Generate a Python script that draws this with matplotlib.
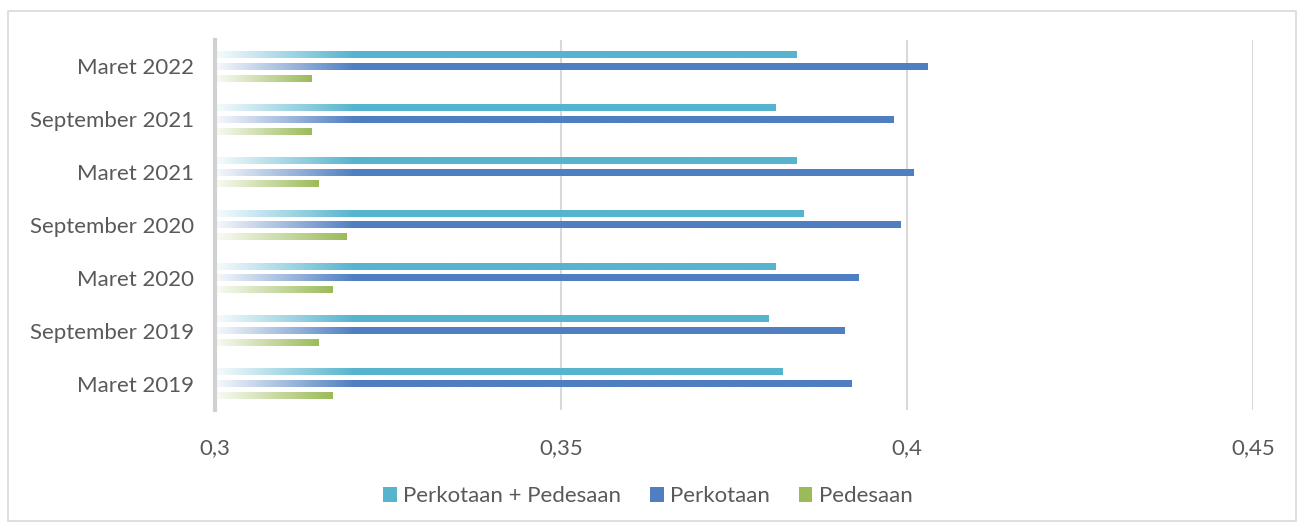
import numpy as np
import matplotlib
matplotlib.use("Agg")
import matplotlib.pyplot as plt
from matplotlib.colors import to_rgb
from matplotlib.patches import Patch, Rectangle

periods = ["Maret 2019", "September 2019", "Maret 2020", "September 2020",
           "Maret 2021", "September 2021", "Maret 2022"]
total = [0.382, 0.380, 0.381, 0.385, 0.384, 0.381, 0.384]
urban = [0.392, 0.391, 0.393, 0.399, 0.401, 0.398, 0.403]
rural = [0.317, 0.315, 0.317, 0.319, 0.315, 0.314, 0.314]
series_names = ["Perkotaan + Pedesaan", "Perkotaan", "Pedesaan"]
colors = ["#56B4CE", "#4F7FC0", "#9BBB59"]
xticks = [0.3, 0.35, 0.4, 0.45]
xticklabels = ["0,3", "0,35", "0,4", "0,45"]

plt.rcParams["font.family"] = ["Lato", "DejaVu Sans"]
text_color = "#595959"
fs = 16

fig = plt.figure(figsize=(13.04, 5.32), dpi=100)
ax = fig.add_axes([0.165, 0.229, 0.796, 0.696])

y = np.arange(len(periods))
h = 0.13
offsets = [0.224, 0.0, -0.224]
xmin, xmax = 0.3, 0.45


def gradient_bar(ax, patch, color):
    x0, y0 = patch.get_x(), patch.get_y()
    w, hh = patch.get_width(), patch.get_height()
    n = 200
    xs = np.linspace(0, w, n)
    ramp = min(w, 0.02)
    mix = 0.05 + 0.95 * np.clip(xs / ramp, 0, 1)
    c = np.array(to_rgb(color))
    img = 1 - mix[:, None] * (1 - c[None, :])
    ax.imshow(img[None, :, :], extent=[x0, x0 + w, y0, y0 + hh],
              aspect="auto", interpolation="bilinear", zorder=3)
    patch.set_visible(False)


for vals, off, col in zip([total, urban, rural], offsets, colors):
    bars = ax.barh(y + off, np.array(vals) - xmin, left=xmin, height=h,
                   color=col, zorder=3)
    for p in bars:
        gradient_bar(ax, p, col)

ax.set_xlim(xmin, xmax)
ax.set_ylim(-0.5, len(periods) - 0.5)
ax.set_yticks(y)
ax.set_yticklabels(periods, fontsize=fs, color=text_color)
ax.set_xticks(xticks)
ax.set_xticklabels(xticklabels, fontsize=fs, color=text_color)
ax.tick_params(length=0, axis="y", pad=15)
ax.tick_params(length=0, axis="x", pad=20)
ax.grid(axis="x", color="#D9D9D9", linewidth=1.5, zorder=0)
ax.set_axisbelow(True)
for s in ["top", "right", "bottom"]:
    ax.spines[s].set_visible(False)
ax.spines["left"].set_color("#D0D0D0")
ax.spines["left"].set_linewidth(3)
ax.spines["left"].set_zorder(4)

handles = [Patch(facecolor=c, edgecolor="none") for c in colors]
fig.legend(handles, series_names, loc="center", bbox_to_anchor=(0.497, 0.067),
           ncol=3, frameon=False, fontsize=fs, handlelength=0.6,
           handleheight=0.6, columnspacing=1.3, handletextpad=0.3,
           labelcolor=text_color)

fig.patches.append(Rectangle((8 / 1304, 1 - 521 / 532), 1288 / 1304, 510 / 532,
                             transform=fig.transFigure, fill=False,
                             edgecolor="#D9D9D9", linewidth=1.2))

fig.savefig("out.png", dpi=100, facecolor="white")
